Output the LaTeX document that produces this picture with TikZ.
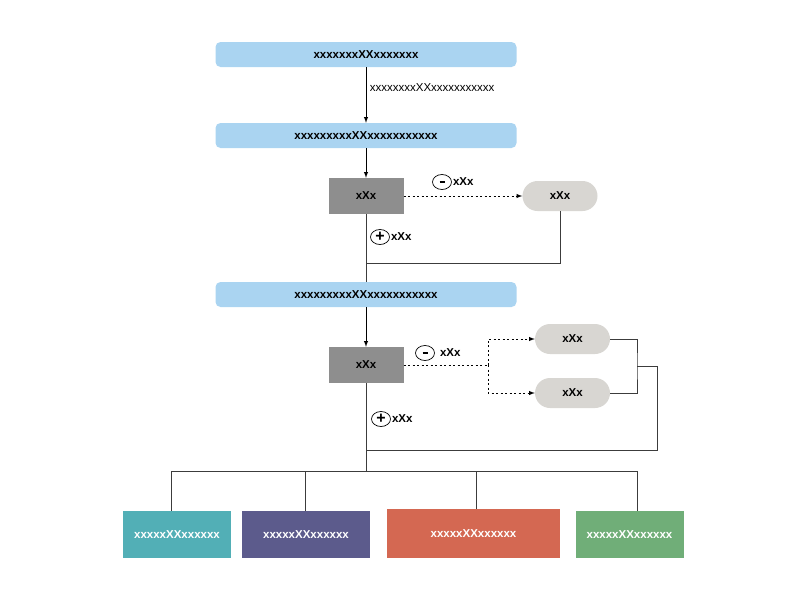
\documentclass[tikz,border=0pt]{standalone}
\usepackage{fontspec}
\setmainfont{Liberation Sans}
\usetikzlibrary{shapes.geometric}
\definecolor{stepblue}{HTML}{AAD4F1}
\definecolor{testgray}{HTML}{8E8E8E}
\definecolor{endgray}{HTML}{D8D6D2}
\definecolor{linegray}{HTML}{3C3C3C}
\definecolor{outteal}{HTML}{52AFB6}
\definecolor{outpurple}{HTML}{5C5B8C}
\definecolor{outred}{HTML}{D46852}
\definecolor{outgreen}{HTML}{70AE78}
\tikzset{
  stepbox/.style={fill=stepblue, rounded corners=5pt, minimum width=301pt, minimum height=25pt, font=\fontsize{11.5}{13}\selectfont\bfseries},
  testbox/.style={fill=testgray, minimum width=75pt, minimum height=36pt, font=\fontsize{11.5}{13}\selectfont\bfseries},
  endbox/.style={fill=endgray, rounded corners=15pt, minimum width=75pt, minimum height=30pt, font=\fontsize{11.5}{13}\selectfont\bfseries},
  outbox/.style={minimum height=47pt, text=white, font=\fontsize{11.5}{13}\selectfont\bfseries},
  sign/.style={draw, ellipse, line width=0.7pt, inner sep=0pt, minimum width=19pt, minimum height=15pt, font=\fontsize{16}{16}\selectfont\bfseries},
  signlabel/.style={right, inner sep=1pt, font=\fontsize{11.5}{13}\selectfont\bfseries},
  flow/.style={->, >=latex, black, line width=1pt},
  dots/.style={dash pattern=on 2pt off 2.5pt, line width=1pt},
  wire/.style={linegray, line width=0.9pt}
}
\newcommand{\minussign}{\rule{5pt}{2.2pt}}
\begin{document}
\begin{tikzpicture}[x=1pt, y=-1pt]
\useasboundingbox (0,0) rectangle (800,600);
% steps
\node [stepbox] (top) at (366,54.5) {xxxxxxxXXxxxxxxx};
\node [stepbox] (mid) at (366,135.5) {xxxxxxxxxXXxxxxxxxxxxx};
\node [stepbox] (low) at (366,294.5) {xxxxxxxxxXXxxxxxxxxxxx};
\draw [flow] (top) -- (mid) node [pos=.36, right, font=\fontsize{11.5}{13}\selectfont] {xxxxxxxxXXxxxxxxxxxxx};
% first test
\node [testbox] (test1) at (366,196) {xXx};
\node [endbox] (end1) at (560,196) {xXx};
\draw [flow] (mid) -- (test1);
\draw [flow, dots] (test1.east) -- (end1.west);
\node [sign] (no1) at (442,182) {\minussign};
\node [signlabel] at (no1.east) {xXx};
\node [sign] (yes1) at (380,237) {+};
\node [signlabel] at (yes1.east) {xXx};
\coordinate (join1) at (366,263);
\draw [wire] (end1.south) |- (join1);
\draw [wire] (test1.south) -- (low.north);
% second test
\node [testbox] (test2) at (366,365) {xXx};
\node [endbox] (end2) at (572.5,339) {xXx};
\node [endbox] (end3) at (572.5,393) {xXx};
\draw [flow] (low) -- (test2);
\coordinate (fork) at (488,365);
\draw [dots] (test2.east) -- (fork);
\draw [flow, dots] (fork) |- (end2.west);
\draw [flow, dots] (fork) |- (end3.west);
\node [sign] (no2) at (425,353) {\minussign};
\node [signlabel, xshift=4pt] at (no2.east) {xXx};
\node [sign] (yes2) at (381,419) {+};
\node [signlabel] at (yes2.east) {xXx};
\coordinate (merge) at (637,366);
\coordinate (join2) at (366,450);
\draw [wire] (end2.east) -| (merge) |- (end3.east);
\draw [wire] (merge) -- (657,366) |- (join2);
% outcomes
\node [outbox, fill=outteal, minimum width=108pt] (out1) at (177,534.5) {xxxxxXXxxxxxx};
\node [outbox, fill=outpurple, minimum width=128pt] (out2) at (306,534.5) {xxxxxXXxxxxxx};
\node [outbox, fill=outred, minimum width=173pt, minimum height=49pt] (out3) at (473.5,533.5) {xxxxxXXxxxxxx};
\node [outbox, fill=outgreen, minimum width=108pt] (out4) at (629.5,534.5) {xxxxxXXxxxxxx};
\coordinate (bus) at (366,471);
\coordinate (b1) at (171,471);
\coordinate (b2) at (305,471);
\coordinate (b3) at (476,471);
\coordinate (b4) at (637,471);
\draw [wire] (test2.south) -- (bus);
\draw [wire] (b1) -- (b4);
\draw [wire] (b1) -- (b1 |- out1.north);
\draw [wire] (b2) -- (b2 |- out2.north);
\draw [wire] (b3) -- (b3 |- out3.north);
\draw [wire] (b4) -- (b4 |- out4.north);
\end{tikzpicture}
\end{document}
